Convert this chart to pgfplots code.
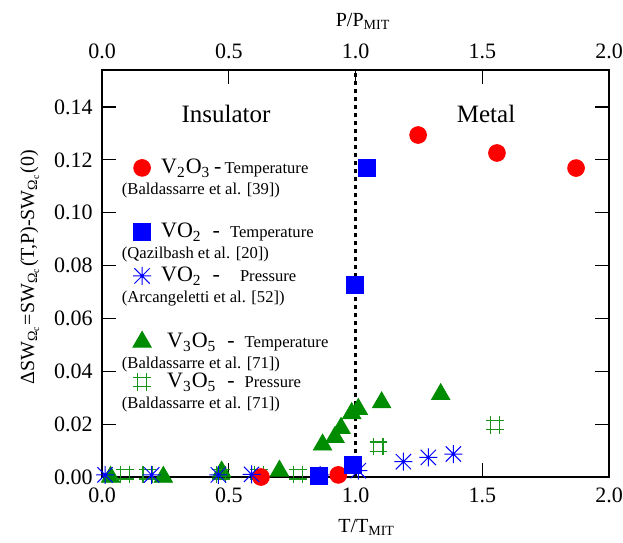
\documentclass[border=0pt]{standalone}
\usepackage{pgfplots}
\pgfplotsset{compat=1.18}
\usepackage{fontspec}
\setmainfont{Liberation Serif}
\definecolor{myred}{RGB}{255,0,0}
\definecolor{myblue}{RGB}{0,0,255}
\definecolor{mygreen}{RGB}{0,140,0}
\definecolor{mygreen2}{RGB}{25,150,25}

\pgfdeclareplotmark{ast8}{%
  \pgfpathmoveto{\pgfqpoint{-\pgfplotmarksize}{0pt}}\pgfpathlineto{\pgfqpoint{\pgfplotmarksize}{0pt}}%
  \pgfpathmoveto{\pgfqpoint{0pt}{-\pgfplotmarksize}}\pgfpathlineto{\pgfqpoint{0pt}{\pgfplotmarksize}}%
  \pgfpathmoveto{\pgfqpoint{-0.85\pgfplotmarksize}{-0.85\pgfplotmarksize}}\pgfpathlineto{\pgfqpoint{0.85\pgfplotmarksize}{0.85\pgfplotmarksize}}%
  \pgfpathmoveto{\pgfqpoint{-0.85\pgfplotmarksize}{0.85\pgfplotmarksize}}\pgfpathlineto{\pgfqpoint{0.85\pgfplotmarksize}{-0.85\pgfplotmarksize}}%
  \pgfusepathqstroke
  \pgfpathcircle{\pgfpointorigin}{0.8pt}\pgfusepathqfill
}
\pgfdeclareplotmark{hash}{%
  \pgfpathmoveto{\pgfqpoint{-0.53\pgfplotmarksize}{-\pgfplotmarksize}}\pgfpathlineto{\pgfqpoint{-0.53\pgfplotmarksize}{\pgfplotmarksize}}%
  \pgfpathmoveto{\pgfqpoint{0.53\pgfplotmarksize}{-\pgfplotmarksize}}\pgfpathlineto{\pgfqpoint{0.53\pgfplotmarksize}{\pgfplotmarksize}}%
  \pgfpathmoveto{\pgfqpoint{-\pgfplotmarksize}{-0.53\pgfplotmarksize}}\pgfpathlineto{\pgfqpoint{\pgfplotmarksize}{-0.53\pgfplotmarksize}}%
  \pgfpathmoveto{\pgfqpoint{-\pgfplotmarksize}{0.53\pgfplotmarksize}}\pgfpathlineto{\pgfqpoint{\pgfplotmarksize}{0.53\pgfplotmarksize}}%
  \pgfusepathqstroke
}
\newcommand{\lbig}[1]{{\fontsize{11}{13}\selectfont #1}}
\newcommand{\lsml}[1]{{\fontsize{8.3}{10}\selectfont #1}}
% legend entry: #1 line 1, #2 line 2, #3 height of row above line-1 baseline
\newcommand{\lent}[3]{\makebox[0pt][l]{\raisebox{-10.3pt}[0pt][0pt]{\kern-19.65pt\lsml{#2}}}%
  \rule{0pt}{#3}\raisebox{0pt}[\height][0pt]{#1}}

\begin{document}
\begin{tikzpicture}
\begin{axis}[name=main,
  scale only axis, width=253.5pt, height=203.5pt,
  xmin=0, xmax=2, ymin=0, ymax=0.154,
  clip=false,
  xtick={0,0.5,1,1.5,2},
  ytick={0,0.02,0.04,0.06,0.08,0.10,0.12,0.14},
  minor tick num=0,
  tick align=inside,
  major tick length=7pt,
  tick style={black, line width=0.6pt},
  axis line style={line width=0.6pt},
  /pgf/number format/assume math mode=true,
  ticklabel style={font=\fontsize{11}{13}\selectfont},
  xticklabel style={/pgf/number format/fixed, /pgf/number format/fixed zerofill, /pgf/number format/precision=1},
  yticklabel style={/pgf/number format/fixed, /pgf/number format/fixed zerofill, /pgf/number format/precision=2},
  every x tick label/.append style={anchor=base, yshift=-12.8pt},
  every y tick label/.append style={anchor=east, inner sep=0pt, xshift=-4.5pt},
  label style={font=\fontsize{12}{14}\selectfont},
  xlabel={T/T\textsubscript{MIT}},
  every axis x label/.style={at={(axis description cs:0.522,-0.1351)}, anchor=base},
  ylabel={ΔSW\textsubscript{Ω\textsubscript{c}}=SW\textsubscript{Ω\textsubscript{c}}(T,P)-SW\textsubscript{Ω\textsubscript{c}}(0)},
  every axis y label/.style={at={(axis description cs:-0.134,0.515)}, rotate=90, anchor=base},
  legend style={at={(axis cs:0.1219,0.1215)}, anchor=north west, draw=none, fill=none,
    inner sep=0pt, outer sep=0pt, row sep=0pt, column sep=4.97pt,
    cells={anchor=base west}, nodes={inner sep=0pt, outer sep=0pt}},
  legend image post style={yshift=3pt},
]
% data
\addplot[only marks, mark=triangle*, mark size=5.3pt, color=mygreen, forget plot] coordinates {
 (0.034,0) (0.242,0) (0.472,0.002) (0.70,0.0023) (0.870,0.0122) (0.919,0.0151)
 (0.943,0.0185) (0.985,0.0241) (1.011,0.0257) (1.103,0.0282) (1.336,0.0313)};
\addplot[only marks, mark=hash, mark size=4.4pt, color=mygreen2, line width=0.6pt, forget plot] coordinates {
 (0.091,0.001) (0.18,0.001) (0.47,0.001) (0.62,0.001) (0.773,0.001) (1.09,0.0115) (1.55,0.0197)};
\addplot[only marks, mark=*, mark size=4.2pt, color=myred, forget plot] coordinates {
 (0.627,0) (0.932,0.0008) (1.247,0.1294) (1.558,0.1226) (1.87,0.1169)};
\addplot[only marks, mark=square*, mark size=4.2pt, color=myblue, forget plot] coordinates {
 (0.856,0.0005) (0.991,0.0045) (0.998,0.0726) (1.045,0.1169)};
\addplot[only marks, mark=ast8, mark size=4.5pt, color=myblue, line width=0.5pt, forget plot] coordinates {
 (0.012,0.0008) (0.196,0.0008) (0.459,0.0008) (0.59,0.001) (0.86,0.0008) (1.011,0.0024)
 (1.189,0.0058) (1.287,0.0074) (1.386,0.0087)};
\addplot[black, line width=1.35pt, dash pattern=on 2pt off 2pt, forget plot] coordinates {(1,0) (1,0.154)};
% legend
\addlegendimage{only marks, mark=*, mark size=4.2pt, color=myred}
\addlegendentry{\lent{\lbig{V\textsubscript{2}O\textsubscript{3}\,-}\,\lsml{Temperature}}{(Baldassarre et al. [39])}{9pt}}
\addlegendimage{only marks, mark=square*, mark size=4.2pt, color=myblue}
\addlegendentry{\lent{\lbig{VO\textsubscript{2}\ \ -}\ \ \lsml{Temperature}}{(Qazilbash et al. [20])}{30.5pt}}
\addlegendimage{only marks, mark=ast8, mark size=4.5pt, color=myblue, line width=0.5pt}
\addlegendentry{\lent{\lbig{VO\textsubscript{2}\ \ -}\ \ \ \ \lsml{Pressure}}{(Arcangeletti et al. [52])}{20.5pt}}
\addlegendimage{only marks, mark=triangle*, mark size=5.3pt, color=mygreen}
\addlegendentry{\lent{\kern3pt\lbig{V\textsubscript{3}O\textsubscript{5}\ \ -}\ \ \lsml{Temperature}}{(Baldassarre et al. [71])}{31.5pt}}
\addlegendimage{only marks, mark=hash, mark size=4.4pt, color=mygreen2, line width=0.6pt}
\addlegendentry{\lent{\kern3pt\lbig{V\textsubscript{3}O\textsubscript{5}\ \ -}\ \ \lsml{Pressure}}{(Baldassarre et al. [71])}{18.5pt}}
\node[anchor=base, font=\fontsize{12.5}{14}\selectfont] at (axis cs:0.489,0.134) {Insulator};
\node[anchor=base, font=\fontsize{12.5}{14}\selectfont] at (axis cs:1.515,0.134) {Metal};
\end{axis}
\begin{axis}[
  scale only axis, width=253.5pt, height=203.5pt,
  xmin=0, xmax=2, ymin=0, ymax=1,
  axis x line*=top, axis y line=none,
  xtick={0,0.5,1,1.5,2},
  tick align=inside,
  major tick length=7pt,
  tick style={black, line width=0.6pt},
  axis line style={line width=0.6pt},
  /pgf/number format/assume math mode=true,
  ticklabel style={font=\fontsize{11}{13}\selectfont},
  xticklabel style={/pgf/number format/fixed, /pgf/number format/fixed zerofill, /pgf/number format/precision=1},
  every x tick label/.append style={anchor=base, yshift=6pt},
  label style={font=\fontsize{12}{14}\selectfont},
  xlabel={P/P\textsubscript{MIT}},
  every axis x label/.style={at={(axis description cs:0.515,1.1057)}, anchor=base},
]
\addplot[draw=none, forget plot] coordinates {(0,0) (2,1)};
\end{axis}
\pgfresetboundingbox
\path ([xshift=-51pt,yshift=-32.5pt]main.south west) rectangle ([xshift=7pt,yshift=35pt]main.north east);
\end{tikzpicture}
\end{document}
